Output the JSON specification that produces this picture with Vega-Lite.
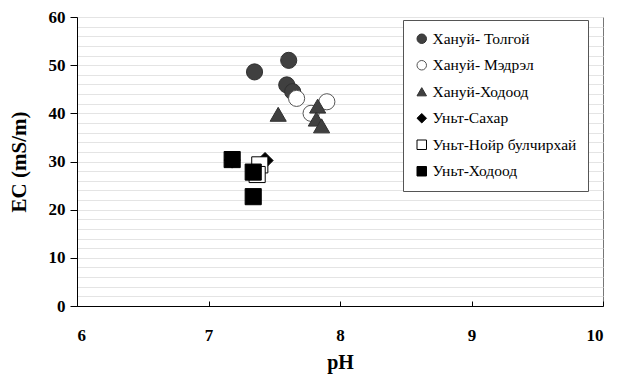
{
  "$schema": "https://vega.github.io/schema/vega-lite/v6.json",
  "width": 526,
  "height": 289,
  "autosize": "none",
  "padding": {"left": 77, "top": 17, "right": 20, "bottom": 72},
  "background": "white",
  "config": {
    "view": {"stroke": "#777", "strokeWidth": 1},
    "font": "Liberation Serif, serif",
    "axis": {"labelFont": "Liberation Serif, serif", "titleFont": "Liberation Serif, serif", "labelFontSize": 17, "labelFontWeight": "bold", "labelColor": "black"},
    "legend": {"labelFont": "Liberation Serif, serif", "labelFontSize": 15.5, "labelColor": "black"}
  },
  "data": {
    "values": [
      {"s": "Хануй-  Толгой", "pH": 7.35, "EC": 48.6},
      {"s": "Хануй-  Толгой", "pH": 7.61, "EC": 51.0},
      {"s": "Хануй-  Толгой", "pH": 7.595, "EC": 45.9},
      {"s": "Хануй-  Толгой", "pH": 7.64, "EC": 44.5},
      {"s": "Хануй-  Мэдрэл", "pH": 7.67, "EC": 43.1},
      {"s": "Хануй-  Мэдрэл", "pH": 7.9, "EC": 42.4},
      {"s": "Хануй-  Мэдрэл", "pH": 7.78, "EC": 40.0},
      {"s": "Хануй-Ходоод", "pH": 7.53, "EC": 39.8},
      {"s": "Хануй-Ходоод", "pH": 7.83, "EC": 41.5},
      {"s": "Хануй-Ходоод", "pH": 7.82, "EC": 38.8},
      {"s": "Хануй-Ходоод", "pH": 7.86, "EC": 37.4},
      {"s": "Уньт-Сахар", "pH": 7.18, "EC": 30.3},
      {"s": "Уньт-Сахар", "pH": 7.43, "EC": 30.2},
      {"s": "Уньт-Нойр булчирхай", "pH": 7.39, "EC": 29.3},
      {"s": "Уньт-Нойр булчирхай", "pH": 7.37, "EC": 27.3},
      {"s": "Уньт-Ходоод", "pH": 7.18, "EC": 30.4},
      {"s": "Уньт-Ходоод", "pH": 7.34, "EC": 27.8},
      {"s": "Уньт-Ходоод", "pH": 7.34, "EC": 22.7}
    ]
  },
  "mark": {"type": "point", "filled": false, "opacity": 1, "strokeWidth": 1},
  "encoding": {
    "x": {
      "field": "pH", "type": "quantitative",
      "scale": {"domain": [6, 10], "nice": false, "zero": false},
      "axis": {
        "values": [6, 7, 8, 9, 10], "grid": false, "title": "pH",
        "domainColor": "black", "tickColor": "black", "tickSize": -5,
        "labelPadding": 26, "labelFontSize": 17,
        "labelFontWeight": "bold", "labelColor": "black",
        "titleFontSize": 20, "titleFontWeight": "bold",
        "titleColor": "black", "titlePadding": 9
      }
    },
    "y": {
      "field": "EC", "type": "quantitative",
      "scale": {"domain": [0, 60], "nice": false},
      "axis": {
        "values": [0,2,4,6,8,10,12,14,16,18,20,22,24,26,28,30,32,34,36,38,40,42,44,46,48,50,52,54,56,58,60],
        "grid": true, "gridColor": "#e4e4e4", "gridWidth": 1,
        "title": "EC (mS/m)",
        "domainColor": "black", "tickColor": "black", "tickSize": 7,
        "tickOpacity": {"condition": {"test": "datum.value % 10 === 0", "value": 1}, "value": 0},
        "labelExpr": "datum.value % 10 === 0 ? datum.label : ''",
        "labelPadding": 5, "labelFontSize": 17,
        "labelFontWeight": "bold", "labelColor": "black",
        "titleFontSize": 21, "titleFontWeight": "bold",
        "titleColor": "black", "titlePadding": 19
      }
    },
    "shape": {
      "field": "s", "type": "nominal",
      "scale": {
        "domain": ["Хануй-  Толгой", "Хануй-  Мэдрэл", "Хануй-Ходоод", "Уньт-Сахар", "Уньт-Нойр булчирхай", "Уньт-Ходоод"],
        "range": ["circle", "circle", "triangle-up", "diamond", "square", "square"]
      },
      "legend": {
        "title": null, "orient": "none", "legendX": 326, "legendY": 3,
        "strokeColor": "#555", "fillColor": "white", "padding": 11,
        "labelFontSize": 15.5, "labelColor": "black",
        "symbolSize": 90, "rowPadding": 9.5, "labelOffset": 3, "symbolStrokeWidth": 1
      }
    },
    "fill": {
      "field": "s", "type": "nominal",
      "scale": {
        "domain": ["Хануй-  Толгой", "Хануй-  Мэдрэл", "Хануй-Ходоод", "Уньт-Сахар", "Уньт-Нойр булчирхай", "Уньт-Ходоод"],
        "range": ["#404040", "white", "#404040", "black", "white", "black"]
      },
      "legend": {
        "title": null, "orient": "none", "legendX": 326, "legendY": 3
      }
    },
    "stroke": {
      "field": "s", "type": "nominal",
      "scale": {
        "domain": ["Хануй-  Толгой", "Хануй-  Мэдрэл", "Хануй-Ходоод", "Уньт-Сахар", "Уньт-Нойр булчирхай", "Уньт-Ходоод"],
        "range": ["#303030", "#555555", "#303030", "black", "black", "black"]
      },
      "legend": {
        "title": null, "orient": "none", "legendX": 326, "legendY": 3
      }
    },
    "size": {"value": 260}
  }
}
